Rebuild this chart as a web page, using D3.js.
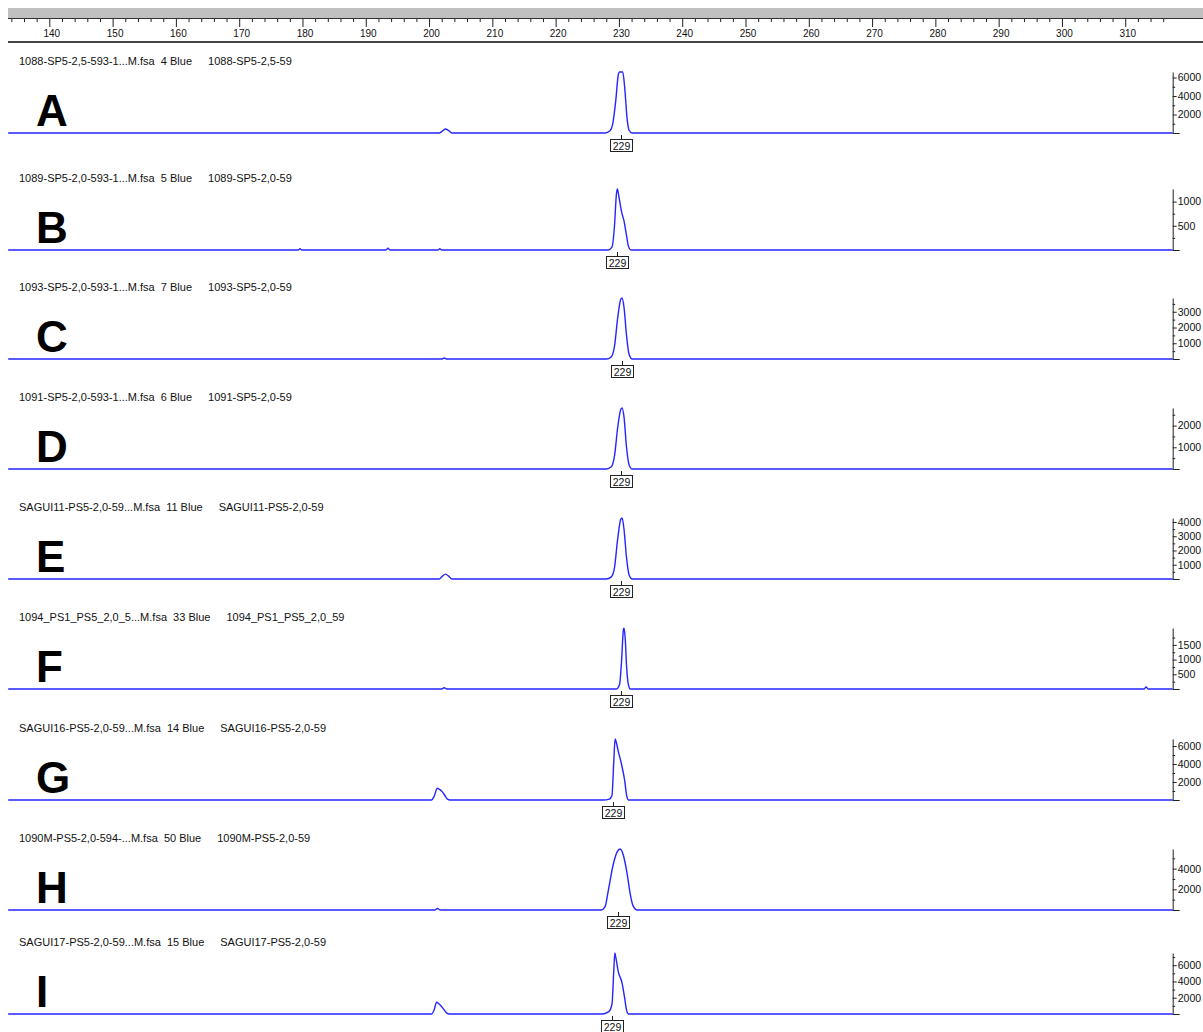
<!DOCTYPE html>
<html><head><meta charset="utf-8">
<script src="https://cdn.jsdelivr.net/npm/d3@7"></script>
<style>
html,body{margin:0;padding:0;background:#fff}
svg{display:block}
text{font-family:"Liberation Sans",Arial,sans-serif}
</style>
</head><body>
<svg id="chart" width="1203" height="1032"></svg>
<script>
// ---- data -------------------------------------------------------------
const panelLetters = ["A","B","C","D","E","F","G","H","I"];
const fileNames = [
  "1088-SP5-2,5-593-1...M.fsa", "1089-SP5-2,0-593-1...M.fsa", "1093-SP5-2,0-593-1...M.fsa",
  "1091-SP5-2,0-593-1...M.fsa", "SAGUI11-PS5-2,0-59...M.fsa", "1094_PS1_PS5_2,0_5...M.fsa",
  "SAGUI16-PS5-2,0-59...M.fsa", "1090M-PS5-2,0-594-...M.fsa", "SAGUI17-PS5-2,0-59...M.fsa"
];
const laneNumbers = [4, 5, 7, 6, 11, 33, 14, 50, 15];
const dyeName = "Blue";
const sampleNames = [
  "1088-SP5-2,5-59", "1089-SP5-2,0-59", "1093-SP5-2,0-59", "1091-SP5-2,0-59",
  "SAGUI11-PS5-2,0-59", "1094_PS1_PS5_2,0_59", "SAGUI16-PS5-2,0-59",
  "1090M-PS5-2,0-59", "SAGUI17-PS5-2,0-59"
];
// size axis (bp)
const sizeMajorTicks = [140,150,160,170,180,190,200,210,220,230,240,250,260,270,280,290,300,310];
const sizeMinorTicks = [134,136,138,142,144,146,148,152,154,156,158,162,164,166,168,172,174,176,178,
  182,184,186,188,192,194,196,198,202,204,206,208,212,214,216,218,222,224,226,228,232,234,236,238,
  242,244,246,248,252,254,256,258,262,264,266,268,272,274,276,278,282,284,286,288,292,294,296,298,
  302,304,306,308,312,314,316];
// intensity axis (RFU) per panel
const rfuMax = [6600, 1260, 3875, 2810, 4280, 2075, 6780, 5900, 7500];
const rfuTicks = [
  [2000,4000,6000], [500,1000], [1000,2000,3000], [1000,2000], [1000,2000,3000,4000],
  [500,1000,1500], [2000,4000,6000], [2000,4000], [2000,4000,6000]
];
const rfuMinorTicks = [
  [1000,3000,5000], [250,750], [500,1500,2500,3500], [500,1500,2500], [500,1500,2500,3500],
  [250,750,1250,1750], [1000,3000,5000], [1000,3000,5000], [1000,3000,5000,7000]
];
// allele calls
const alleleCalls = [229, 229, 229, 229, 229, 229, 229, 229, 229];
const callSizes = [230.3, 229.7, 230.5, 230.3, 230.3, 230.3, 229.1, 229.8, 228.9];

// electropherogram traces: [size (bp), intensity (RFU)]
const traceA = [[133.5,0],[201.6,0],[202.1,200],[202.6,430],[203.1,250],[203.6,0],
  [227.8,0],[228.6,250],[229.0,900],[229.5,3500],[229.9,6300],[230.1,6600],[230.6,6600],
  [230.9,5000],[231.3,1500],[231.6,300],[232.1,0],[317.5,0]];
const traceB = [[133.5,0],[179.3,0],[179.6,25],[179.9,0],[193.2,0],[193.5,35],[193.8,0],
  [201.4,0],[201.7,25],[202.0,0],
  [228.3,0],[228.9,60],[229.3,500],[229.6,1150],[229.75,1260],[230.0,1100],[230.4,800],
  [230.8,600],[231.2,300],[231.5,80],[231.9,0],[317.5,0]];
const traceC = [[133.5,0],[202.0,0],[202.4,60],[202.8,0],
  [228.0,0],[228.8,150],[229.3,800],[229.8,2600],[230.3,3800],[230.5,3875],[230.8,3300],
  [231.2,1500],[231.6,300],[232.1,0],[317.5,0]];
const traceD = [[133.5,0],
  [228.0,0],[228.8,100],[229.3,600],[229.8,1900],[230.3,2750],[230.5,2810],[230.8,2400],
  [231.2,1000],[231.6,200],[232.1,0],[317.5,0]];
const traceE = [[133.5,0],[201.6,0],[202.1,200],[202.6,345],[203.1,200],[203.6,0],
  [228.0,0],[228.8,150],[229.3,800],[229.8,2800],[230.3,4200],[230.5,4280],[230.8,3500],
  [231.2,1500],[231.6,300],[232.1,0],[317.5,0]];
const traceF = [[133.5,0],[202.0,0],[202.4,40],[202.8,0],
  [229.6,0],[230.1,150],[230.4,900],[230.7,2000],[230.8,2075],[231.0,1700],[231.2,800],
  [231.5,150],[231.8,0],[313.0,0],[313.3,70],[313.6,0],[317.5,0]];
const traceG = [[133.5,0],[200.4,0],[200.8,400],[201.3,1300],[201.6,1200],[202.1,900],
  [202.5,500],[202.9,100],[203.3,0],
  [227.5,0],[228.5,100],[228.9,500],[229.2,4500],[229.4,6780],[229.55,6500],[229.9,5400],
  [230.4,4000],[230.9,2200],[231.2,600],[231.5,0],[317.5,0]];
const traceH = [[133.5,0],[200.9,0],[201.3,150],[201.8,0],
  [227.2,0],[227.8,300],[228.3,1800],[229.1,4400],[229.7,5600],[230.2,5900],[230.7,5300],
  [231.3,3500],[231.8,1500],[232.2,450],[232.9,0],[317.5,0]];
const traceI = [[133.5,0],[200.4,0],[200.8,500],[201.2,1450],[201.5,1300],[202.0,900],
  [202.4,500],[202.8,100],[203.2,0],
  [227.3,0],[228.4,300],[228.9,1200],[229.2,5500],[229.35,7500],[229.5,7000],[229.9,5200],
  [230.5,3800],[230.9,2000],[231.2,500],[231.5,0],[317.5,0]];
const traces = [traceA, traceB, traceC, traceD, traceE, traceF, traceG, traceH, traceI];

// ---- layout -----------------------------------------------------------
const W = 1203;
const plotLeft = 8, plotRight = 1172.7;
const panelBaselines = [133, 250, 359, 469, 579, 689, 800, 910, 1014];
const plotHeight = 61;
const traceColor = "#2525ff";

const svg = d3.select("#chart");

const x = d3.scaleLinear().domain([133.47, 317.5]).range([plotLeft, plotRight]);

// ---- size ruler at the top -------------------------------------------
svg.append("rect").attr("x", plotLeft).attr("y", 8).attr("width", W - plotLeft).attr("height", 10)
  .attr("fill", "#c0c0c0");
svg.append("line").attr("x1", plotLeft).attr("x2", W).attr("y1", 18.5).attr("y2", 18.5)
  .attr("stroke", "#333").attr("stroke-width", 1);
svg.append("line").attr("x1", plotLeft).attr("x2", W).attr("y1", 42).attr("y2", 42)
  .attr("stroke", "#444").attr("stroke-width", 2);

const topMajor = svg.append("g").attr("transform", "translate(0,19)")
  .call(d3.axisBottom(x).tickValues(sizeMajorTicks).tickSize(8).tickPadding(3).tickSizeOuter(0));
topMajor.select(".domain").remove();
topMajor.selectAll("line").attr("stroke", "#222");
topMajor.selectAll("text").attr("font-size", 10).attr("fill", "#111").attr("dx", 2)
  .attr("font-family", "'Liberation Sans', Arial, sans-serif");

const topMinor = svg.append("g").attr("transform", "translate(0,19)")
  .call(d3.axisBottom(x).tickValues(sizeMinorTicks).tickSize(3).tickFormat(""));
topMinor.select(".domain").remove();
topMinor.selectAll("line").attr("stroke", "#222");

// ---- panels -----------------------------------------------------------
panelLetters.forEach((letter, i) => {
  const base = panelBaselines[i];
  const y = d3.scaleLinear().domain([0, rfuMax[i]]).range([base, base - plotHeight]);
  const g = svg.append("g");

  // header line: file name, lane, dye, sample
  const header = g.append("text").attr("x", 19).attr("y", base - 68.5)
    .attr("font-size", 11).attr("fill", "#111").style("white-space", "pre")
    .text(`${fileNames[i]}  ${laneNumbers[i]} ${dyeName}`);
  const hw = header.node().getComputedTextLength();
  g.append("text").attr("x", 19 + hw + 16).attr("y", base - 68.5)
    .attr("font-size", 11).attr("fill", "#111").text(sampleNames[i]);

  // panel letter
  g.append("text").attr("x", 36).attr("y", base - 7)
    .attr("font-size", 44).attr("font-weight", "bold").attr("fill", "#000").text(letter);

  // intensity axis on the right
  const ax = g.append("g").attr("transform", `translate(${plotRight},0)`)
    .call(d3.axisRight(y).tickValues(rfuTicks[i]).tickSize(4).tickPadding(1).tickSizeOuter(0)
      .tickFormat(d3.format("d")));
  ax.select(".domain").attr("stroke", "#222");
  ax.selectAll("line").attr("stroke", "#222");
  ax.selectAll("text").attr("font-size", 10.5).attr("fill", "#111")
    .attr("font-family", "'Liberation Sans', Arial, sans-serif");
  const axm = g.append("g").attr("transform", `translate(${plotRight},0)`)
    .call(d3.axisRight(y).tickValues(rfuMinorTicks[i].filter(v => v <= rfuMax[i]))
      .tickSize(2.5).tickFormat("").tickSizeOuter(0));
  axm.select(".domain").remove();
  axm.selectAll("line").attr("stroke", "#222");
  g.append("line").attr("x1", plotRight).attr("x2", plotRight + 7)
    .attr("y1", y(0) + 0.5).attr("y2", y(0) + 0.5).attr("stroke", "#222");

  // trace
  const line = d3.line().x(d => x(d[0])).y(d => y(d[1])).curve(d3.curveMonotoneX);
  g.append("path").datum(traces[i]).attr("d", line)
    .attr("fill", "none").attr("stroke", traceColor).attr("stroke-width", 1.4);

  // allele call label
  const cx = Math.round(x(callSizes[i])) + 0.5;
  g.append("line").attr("x1", cx).attr("x2", cx).attr("y1", base + 2).attr("y2", base + 6)
    .attr("stroke", "#222");
  g.append("rect").attr("x", cx - 11).attr("y", base + 6.5).attr("width", 22).attr("height", 12)
    .attr("fill", "#fff").attr("stroke", "#222").attr("stroke-width", 1);
  g.append("text").attr("x", cx).attr("y", base + 16.5).attr("text-anchor", "middle")
    .attr("font-size", 10.5).attr("fill", "#111").text(alleleCalls[i]);
});
</script>
</body></html>
